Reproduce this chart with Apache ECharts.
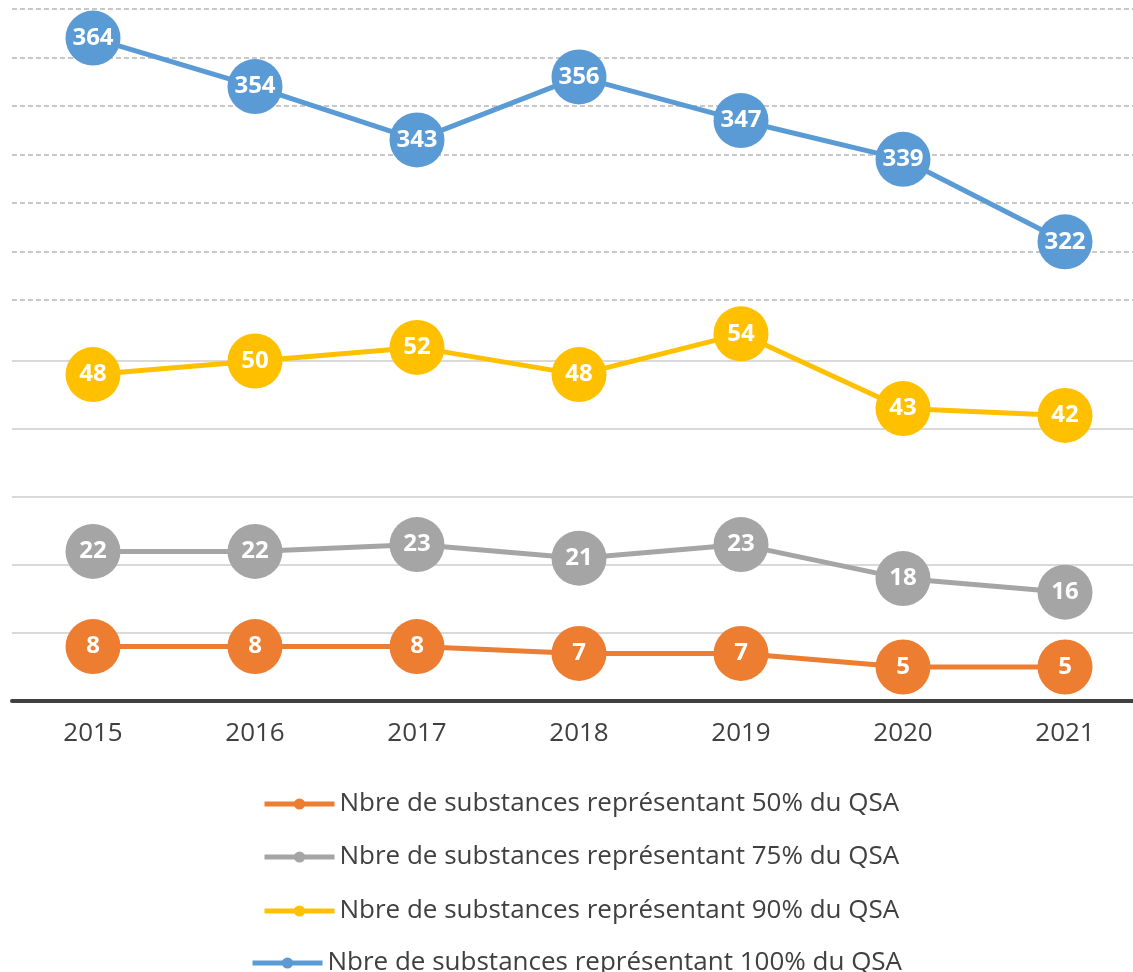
<!DOCTYPE html>
<html>
<head>
<meta charset="utf-8">
<script src="https://cdn.jsdelivr.net/npm/echarts@6/dist/echarts.min.js"></script>
<style>
  html, body { margin: 0; padding: 0; background: #fff; }
  #chart { width: 1133px; height: 972px; }
</style>
</head>
<body>
<div id="chart"></div>
<script>
// années
var years = ["2015", "2016", "2017", "2018", "2019", "2020", "2021"];
// séries
var names = [
  "Nbre de substances représentant 50% du QSA",
  "Nbre de substances représentant 75% du QSA",
  "Nbre de substances représentant 90% du QSA",
  "Nbre de substances représentant 100% du QSA"
];
var qsa50 = [8, 8, 8, 7, 7, 5, 5];
var qsa75 = [22, 22, 23, 21, 23, 18, 16];
var qsa90 = [48, 50, 52, 48, 54, 43, 42];
var qsa100 = [364, 354, 343, 356, 347, 339, 322];
var colors = ["#ED7D31", "#A5A5A5", "#FFC000", "#5B9BD5"];

var font = "'Open Sans', sans-serif";

function makeSeries(i, data, axisIdx) {
  return {
    name: names[i],
    type: "line",
    data: data,
    xAxisIndex: axisIdx,
    yAxisIndex: axisIdx,
    clip: false,
    symbol: "circle",
    symbolSize: 55,
    itemStyle: { color: colors[i] },
    lineStyle: { color: colors[i], width: 5 },
    label: {
      show: true,
      position: "inside",
      color: "#fff",
      fontFamily: font,
      fontWeight: "bold",
      fontSize: 24
    },
    emphasis: { disabled: true },
    animation: false
  };
}

// une légende par ligne (centrées comme dans Excel)
var legendLeft = [262, 262, 262, 250];
var legendTop = [791, 844, 898, 950];

var myChart = echarts.init(document.getElementById("chart"));
myChart.setOption({
  backgroundColor: "#fff",
  legend: names.map(function (n, i) {
    return {
      data: [n],
      left: legendLeft[i],
      top: legendTop[i],
      padding: 0,
      itemWidth: 70,
      itemHeight: 14,
      itemGap: 0,
      lineStyle: { width: 5 },
      textStyle: { fontFamily: font, fontSize: 26, color: "#404040" }
    };
  }),
  grid: [
    { left: 12, width: 1134, top: 361, bottom: 271, outerBoundsMode: "none" },
    { left: 12, width: 1134, top: 9, height: 291, outerBoundsMode: "none" }
  ],
  xAxis: [
    {
      gridIndex: 0,
      type: "category",
      data: years,
      axisLine: { lineStyle: { color: "#404040", width: 4 } },
      axisTick: { show: false },
      axisLabel: { color: "#404040", fontFamily: font, fontSize: 26, margin: 20 }
    },
    {
      gridIndex: 1,
      type: "category",
      data: years,
      axisLine: { show: false },
      axisTick: { show: false },
      axisLabel: { show: false }
    }
  ],
  yAxis: [
    {
      gridIndex: 0,
      type: "value",
      min: 0,
      max: 50,
      interval: 10,
      axisLabel: { show: false },
      axisLine: { show: false },
      axisTick: { show: false },
      splitLine: { lineStyle: { color: "#d9d9d9", width: 2 } }
    },
    {
      gridIndex: 1,
      type: "value",
      min: 310,
      max: 370,
      interval: 10,
      axisLabel: { show: false },
      axisLine: { show: false },
      axisTick: { show: false },
      splitLine: { lineStyle: { color: "#c8c8c8", width: 2, type: [5, 3] } }
    }
  ],
  series: [
    makeSeries(0, qsa50, 0),
    makeSeries(1, qsa75, 0),
    makeSeries(2, qsa90, 0),
    makeSeries(3, qsa100, 1)
  ]
});
</script>
</body>
</html>
